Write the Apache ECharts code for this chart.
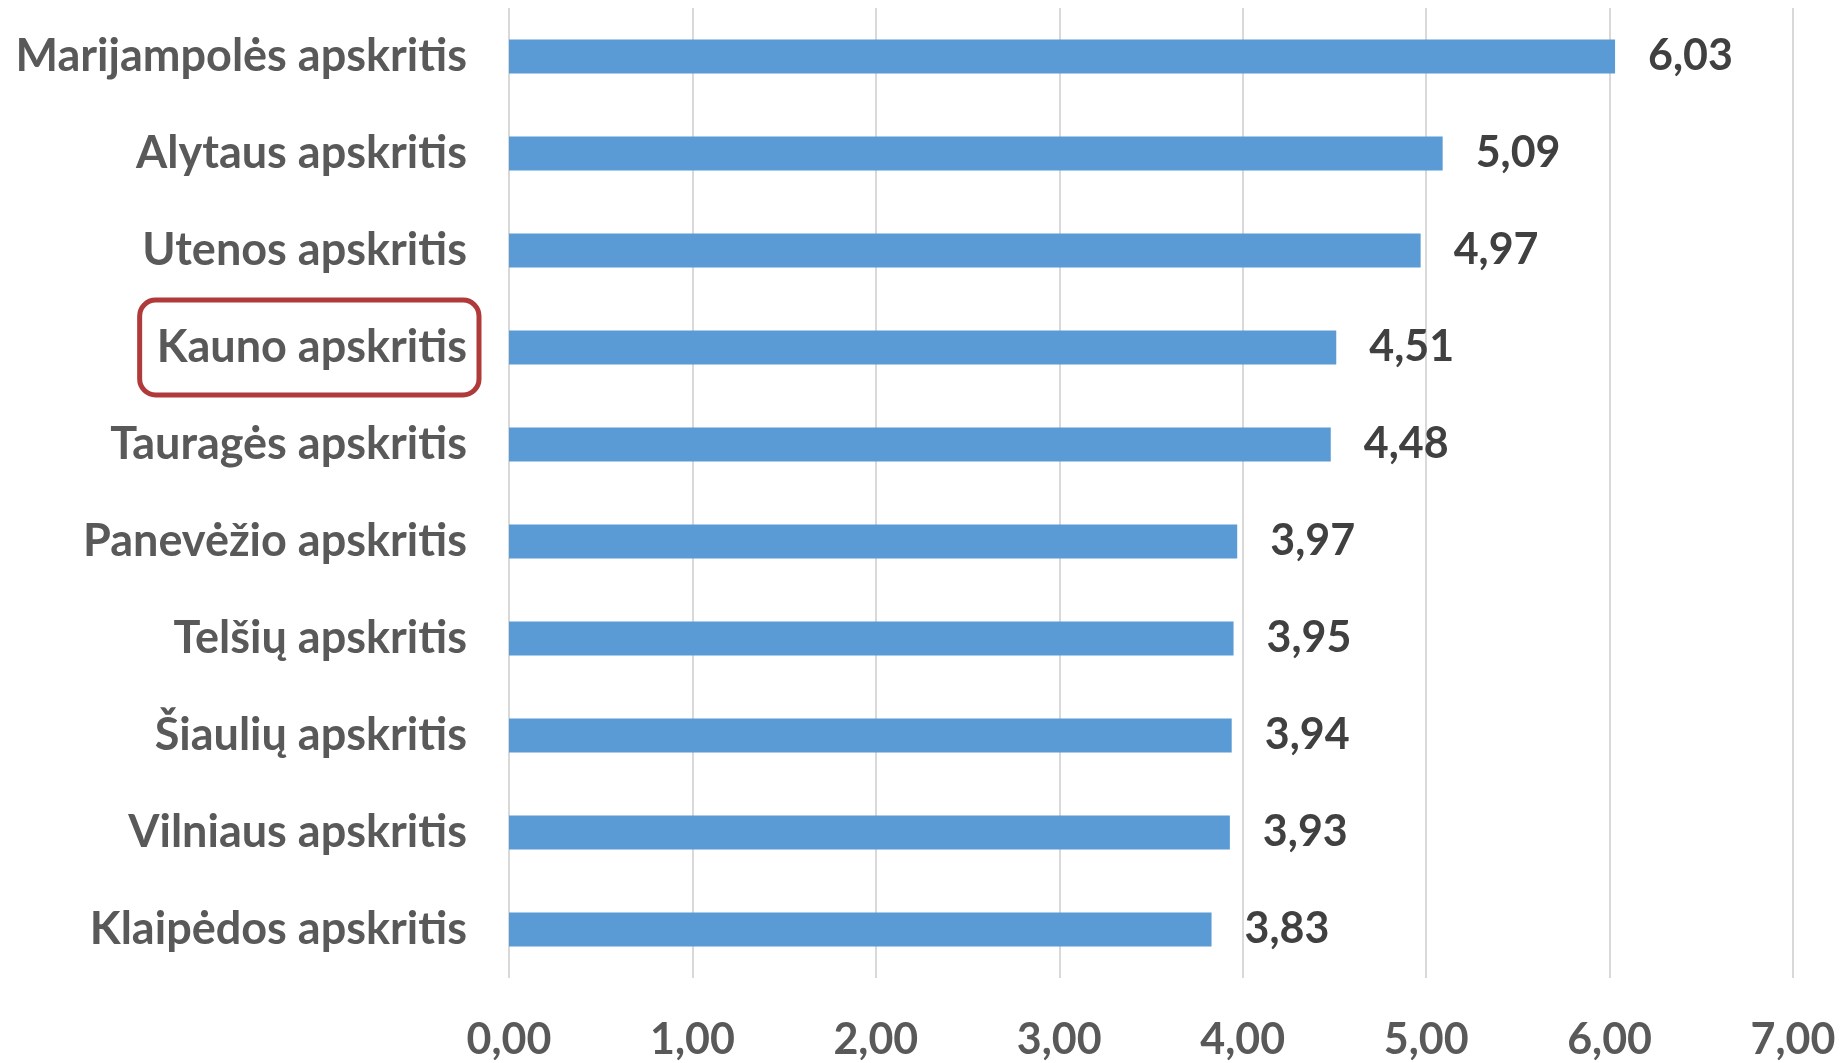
<!DOCTYPE html>
<html>
<head>
<meta charset="utf-8">
<script src="https://cdn.jsdelivr.net/npm/echarts@6/dist/echarts.min.js"></script>
<style>
html,body{margin:0;padding:0;background:#fff;}
#c{width:1844px;height:1063px;}
</style>
</head>
<body>
<div id="c"></div>
<script>
const categories = [
  'Marijampolės apskritis',
  'Alytaus apskritis',
  'Utenos apskritis',
  'Kauno apskritis',
  'Tauragės apskritis',
  'Panevėžio apskritis',
  'Telšių apskritis',
  'Šiaulių apskritis',
  'Vilniaus apskritis',
  'Klaipėdos apskritis'
];
const values = [6.03, 5.09, 4.97, 4.51, 4.48, 3.97, 3.95, 3.94, 3.93, 3.83];
const highlighted = 'Kauno apskritis';
const xMin = 0, xMax = 7, xStep = 1;

const FONT = 'Lato';
const FS_CAT = 45;
const FS_VAL = 43;
const fmt = v => v.toFixed(2).replace('.', ',');

const chart = echarts.init(document.getElementById('c'), null, {renderer: 'canvas'});
chart.setOption({
  backgroundColor: '#ffffff',
  animation: false,
  grid: {left: 509, right: 51, top: 8, bottom: 85, containLabel: false, outerBoundsMode: 'none'},
  xAxis: {
    type: 'value',
    min: xMin, max: xMax, interval: xStep,
    axisLine: {show: false},
    axisTick: {show: false},
    splitLine: {show: true, lineStyle: {color: '#D9D9D9', width: 2}},
    axisLabel: {
      formatter: v => fmt(v),
      color: '#595959', fontFamily: FONT, fontWeight: 'bold', fontSize: FS_VAL,
      margin: 41
    }
  },
  yAxis: {
    type: 'category',
    data: categories,
    inverse: true,
    axisLine: {show: false},
    axisTick: {show: false},
    axisLabel: {
      interval: 0,
      hideOverlap: false,
      margin: 30,
      formatter: v => (v === highlighted ? '{hl|' + v + '}' : '{n|' + v + '}'),
      rich: {
        n: {
          color: '#595959', fontFamily: FONT, fontWeight: 'bold', fontSize: FS_CAT,
          padding: [0, 12, 0, 0]
        },
        hl: {
          color: '#595959', fontFamily: FONT, fontWeight: 'bold', fontSize: FS_CAT,
          padding: [25, 12, 25, 17], borderWidth: 5, borderColor: '#B03A3A', borderRadius: 16
        }
      }
    }
  },
  series: [{
    type: 'bar',
    data: values,
    barWidth: '35%',
    itemStyle: {color: '#5B9BD5'},
    label: {
      show: true, position: 'right', distance: 33,
      formatter: p => fmt(p.value),
      color: '#404040', fontFamily: FONT, fontWeight: 'bold', fontSize: FS_VAL
    }
  }]
});
</script>
</body>
</html>
